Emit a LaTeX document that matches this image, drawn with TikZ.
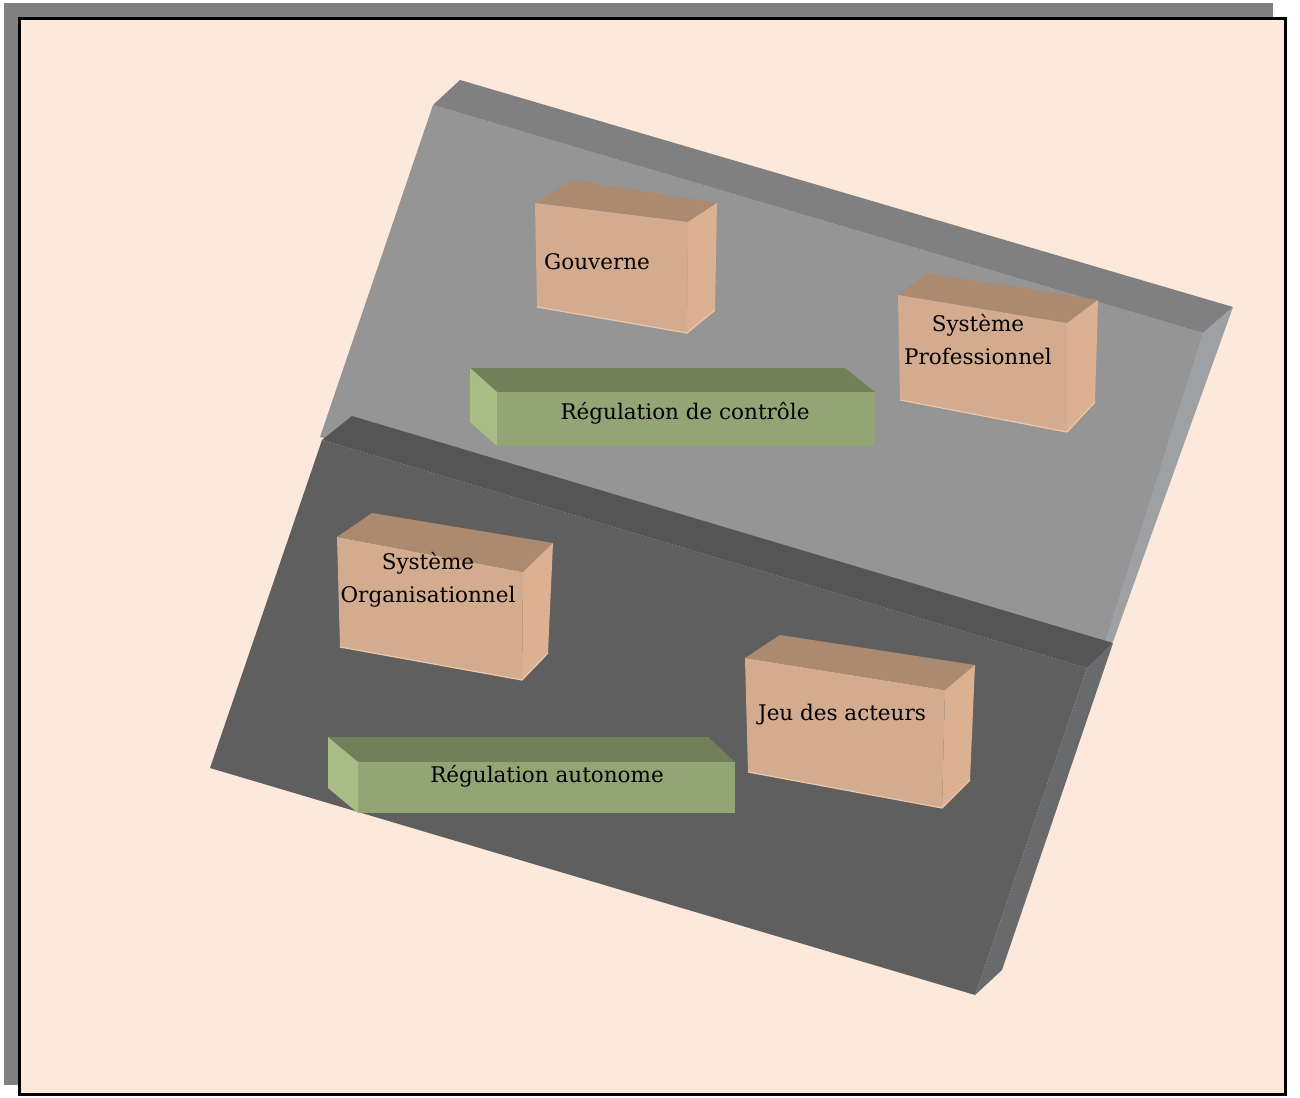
\documentclass[tikz,border=0pt]{standalone}
\usepackage{fontspec}
\setmainfont{DejaVu Serif}
\definecolor{bg}{RGB}{252,233,219}
\definecolor{shadowgrey}{RGB}{128,128,128}
\definecolor{upFace}{RGB}{149,149,149}
\definecolor{upBand}{RGB}{128,128,128}
\definecolor{upSide}{RGB}{158,161,164}
\definecolor{loFace}{RGB}{95,95,95}
\definecolor{loBand}{RGB}{85,85,85}
\definecolor{loSide}{RGB}{104,106,108}
\definecolor{tanFront}{RGB}{211,171,142}
\definecolor{tanTop}{RGB}{172,138,112}
\definecolor{tanSide}{RGB}{219,177,145}
\definecolor{tanEdge}{RGB}{238,198,168}
\definecolor{gTop}{RGB}{114,128,89}
\definecolor{gFront}{RGB}{147,165,116}
\definecolor{gSide}{RGB}{168,189,133}
\tikzset{
  lbl/.style={font=\fontsize{21.5}{33}\selectfont, text=black, align=center, inner sep=0pt},
  edgehl/.style={draw=tanEdge, line width=1.2pt}
}
\begin{document}
\begin{tikzpicture}[x=1pt,y=-1pt]
\useasboundingbox (0,0) rectangle (1300,1097);
\fill[white] (0,0) rectangle (1300,1097);
% frame with shadow
\fill[shadowgrey] (4,3) rectangle (1273,1085);
\draw[line width=2.5pt, fill=bg] (19.5,18.5) rectangle (1285.5,1094.5);

% upper slab
\fill[upFace] (433,105) -- (1203,333) -- (1107,645) -- (320,437) -- cycle;
\fill[upBand] (460,80) -- (1233,307) -- (1203,333) -- (433,105) -- cycle;
\fill[upSide] (1203,333) -- (1233,307) -- (1113,642) -- (1104,645) -- cycle;

% lower slab
\fill[loFace] (322,440) -- (1087,668) -- (975,995) -- (210,768) -- cycle;
\fill[loBand] (352,416) -- (1113,643) -- (1087,668) -- (322,440) -- cycle;
\fill[loSide] (1087,668) -- (1113,643) -- (1002,970) -- (975,995) -- cycle;

% Gouverne box
\fill[tanTop] (535,203) -- (572,180) -- (717,203) -- (688,222) -- cycle;
\fill[tanSide] (688,222) -- (717,203) -- (715,310) -- (687,333) -- cycle;
\fill[tanFront] (535,203) -- (688,222) -- (687,333) -- (537,307) -- cycle;
\draw[edgehl] (537,307) -- (687,333) -- (715,310);
\node[lbl] (gouv) at (597,262) {Gouverne};

% Systeme Professionnel box
\fill[tanTop] (898,295) -- (927,273) -- (1098,300) -- (1067,323) -- cycle;
\fill[tanSide] (1067,323) -- (1098,300) -- (1095,402) -- (1067,432) -- cycle;
\fill[tanFront] (898,295) -- (1067,323) -- (1067,432) -- (900,400) -- cycle;
\draw[edgehl] (900,400) -- (1067,432) -- (1095,402);
\node[lbl] (sprof) at (978,340) {Système\\Professionnel};

% Regulation de controle bar
\fill[gTop] (470,368) -- (845,368) -- (875,392) -- (497,392) -- cycle;
\fill[gSide] (470,368) -- (497,392) -- (497,446) -- (470,422) -- cycle;
\fill[gFront] (497,392) rectangle (875,446);
\node[lbl] (rctrl) at (685,413) {Régulation de contrôle};

% Systeme Organisationnel box
\fill[tanTop] (337,537) -- (372,513) -- (553,543) -- (523,572) -- cycle;
\fill[tanSide] (523,572) -- (553,543) -- (548,653) -- (522,680) -- cycle;
\fill[tanFront] (337,537) -- (523,572) -- (522,680) -- (340,647) -- cycle;
\draw[edgehl] (340,647) -- (522,680) -- (548,653);
\node[lbl] (sorg) at (428,580) {Système\\Organisationnel};

% Jeu des acteurs box
\fill[tanTop] (745,658) -- (780,635) -- (975,665) -- (945,690) -- cycle;
\fill[tanSide] (945,690) -- (975,665) -- (970,780) -- (942,808) -- cycle;
\fill[tanFront] (745,658) -- (945,690) -- (942,808) -- (748,772) -- cycle;
\draw[edgehl] (748,772) -- (942,808) -- (970,780);
\node[lbl] (jeu) at (842,715) {Jeu des acteurs};

% Regulation autonome bar
\fill[gTop] (328,737) -- (708,737) -- (735,762) -- (358,762) -- cycle;
\fill[gSide] (328,737) -- (358,762) -- (358,813) -- (328,788) -- cycle;
\fill[gFront] (358,762) rectangle (735,813);
\node[lbl] (rauto) at (547,776) {Régulation autonome};
\end{tikzpicture}
\end{document}
